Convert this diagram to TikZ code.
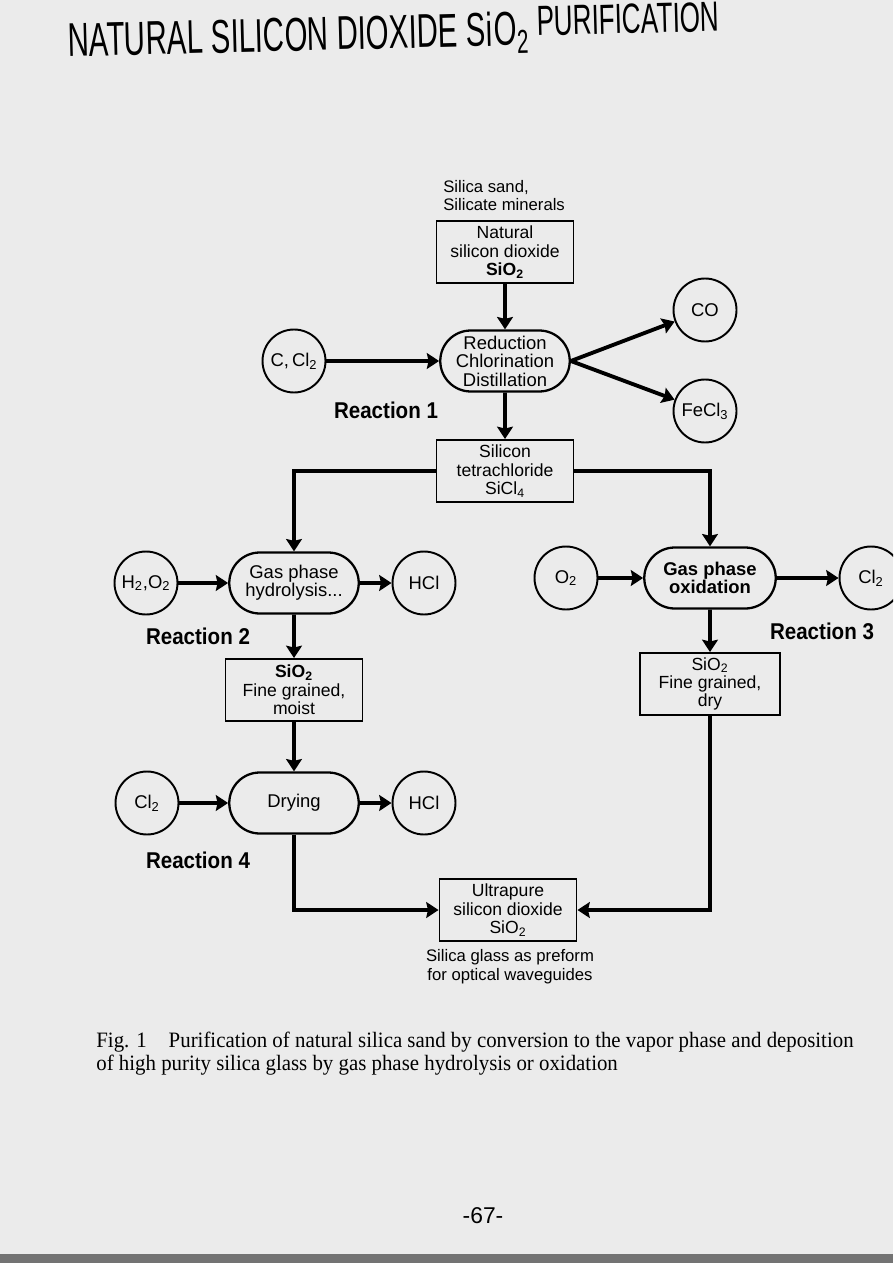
\documentclass[tikz,border=0pt]{standalone}
\usepackage{fontspec}
\setmainfont{Liberation Sans}
\newfontfamily\capfont[FakeStretch=0.95]{Liberation Serif}
\newfontfamily\condfont[FakeStretch=0.9]{Liberation Sans}
\newfontfamily\handfont[FakeStretch=0.62]{Liberation Sans}
\usetikzlibrary{arrows.meta,shapes.misc}
\newcommand\chsub[1]{\textsubscript{#1}}

\begin{document}
\begin{tikzpicture}[x=0.02cm,y=-0.02cm,
  boxnode/.style={draw,line width=1.1pt,minimum width=2.74cm,minimum height=1.24cm,align=center,inner sep=1pt,font=\fontsize{10}{10.5}\selectfont},
  stadium/.style={draw,rounded rectangle,line width=1.3pt,minimum width=2.66cm,minimum height=1.22cm,align=center,inner sep=1pt,font=\fontsize{10.5}{10.5}\selectfont},
  chem/.style={draw,circle,line width=1.1pt,minimum size=1.26cm,inner sep=0pt,font=\fontsize{10.5}{10.5}\selectfont},
  reaclabel/.style={font=\condfont\bfseries\fontsize{13}{13}\selectfont},
  flow/.style={line width=2.2pt,-{Stealth[length=7pt,width=9pt,inset=1pt]}}]
\path[use as bounding box] (0,0) rectangle (893,1263);
\fill[black!8] (0,0) rectangle (893,1263);
\fill[black!55] (0,1254) rectangle (893,1263);
\clip (0,0) rectangle (893,1263);
\node[anchor=base west,rotate=1.5,inner sep=0pt,font=\handfont\fontsize{27}{27}\selectfont] (title) at (68,57) {NATURAL SILICON DIOXIDE Si\kern1pt O\chsub{2}\,\raisebox{5pt}{\fontsize{24}{24}\selectfont PURIFICATION}};
\node[anchor=north west,align=left,inner sep=0pt,font=\fontsize{9.5}{10}\selectfont] (source) at (443,180) {Silica sand,\\Silicate minerals};
\node[boxnode] (natsio) at (505,252) {Natural\\silicon dioxide\\\textbf{SiO\chsub{2}}};
\node[stadium] (reduce) at (505,361) {Reduction\\Chlorination\\Distillation};
\node[chem] (ccl) at (294,361) {C,\,Cl\chsub{2}};
\node[chem] (co) at (705,310) {CO};
\node[chem] (fecl) at (705,411) {FeCl\chsub{3}};
\node[reaclabel] (reac1) at (386,410) {Reaction 1};
\node[boxnode] (sicl) at (505,471) {Silicon\\tetrachloride\\SiCl\chsub{4}};
\node[stadium] (hydro) at (294,583) {Gas phase\\hydrolysis...};
\node[chem] (hto) at (146,583) {H\chsub{2},O\chsub{2}};
\node[chem] (hcla) at (424,583) {HCl};
\node[reaclabel] (reac2) at (198,636) {Reaction 2};
\node[boxnode] (moist) at (294,690) {\textbf{SiO\chsub{2}}\\Fine grained,\\moist};
\node[stadium] (dry) at (294,803) {Drying};
\node[chem] (cla) at (147,803) {Cl\chsub{2}};
\node[chem] (hclb) at (424,803) {HCl};
\node[reaclabel] (reac4) at (198,860) {Reaction 4};
\node[stadium,minimum width=2.7cm] (oxid) at (710,578) {\textbf{Gas phase}\\\textbf{oxidation}};
\node[chem] (oxy) at (566,578) {O\chsub{2}};
\node[chem] (clb) at (871,578) {Cl\chsub{2}};
\node[reaclabel] (reac3) at (822,631) {Reaction 3};
\node[boxnode,minimum width=2.8cm] (drysio) at (710,684) {SiO\chsub{2}\\Fine grained,\\dry};
\node[boxnode] (ultra) at (508,910) {Ultrapure\\silicon dioxide\\SiO\chsub{2}};
\node[align=center,font=\fontsize{9.5}{11}\selectfont] (glass) at (510,967) {Silica glass as preform\\for optical waveguides};
\node[anchor=north west,align=left,inner sep=0pt,font=\capfont\fontsize{12.5}{13}\selectfont] (caption) at (96,1032) {Fig. 1\quad Purification of natural silica sand by conversion to the vapor phase and deposition\\of high purity silica glass by gas phase hydrolysis or oxidation};
\node[font=\fontsize{13}{13}\selectfont] (page) at (483,1216) {-67-};
\draw[flow] (natsio) -- (reduce);
\draw[flow] (ccl) -- (reduce);
\draw[flow] (reduce.east) -- (co);
\draw[flow] (reduce.east) -- (fecl);
\draw[flow] (reduce) -- (sicl);
\draw[flow] (sicl.west) -| (hydro.north);
\draw[flow] (sicl.east) -| (oxid.north);
\draw[flow] (hto) -- (hydro);
\draw[flow] (hydro) -- (hcla);
\draw[flow] (hydro) -- (moist);
\draw[flow] (moist) -- (dry);
\draw[flow] (cla) -- (dry);
\draw[flow] (dry) -- (hclb);
\draw[flow] (dry.south) |- (ultra.west);
\draw[flow] (oxy) -- (oxid);
\draw[flow] (oxid) -- (clb);
\draw[flow] (oxid) -- (drysio);
\draw[flow] (drysio.south) |- (ultra.east);
\end{tikzpicture}
\end{document}
